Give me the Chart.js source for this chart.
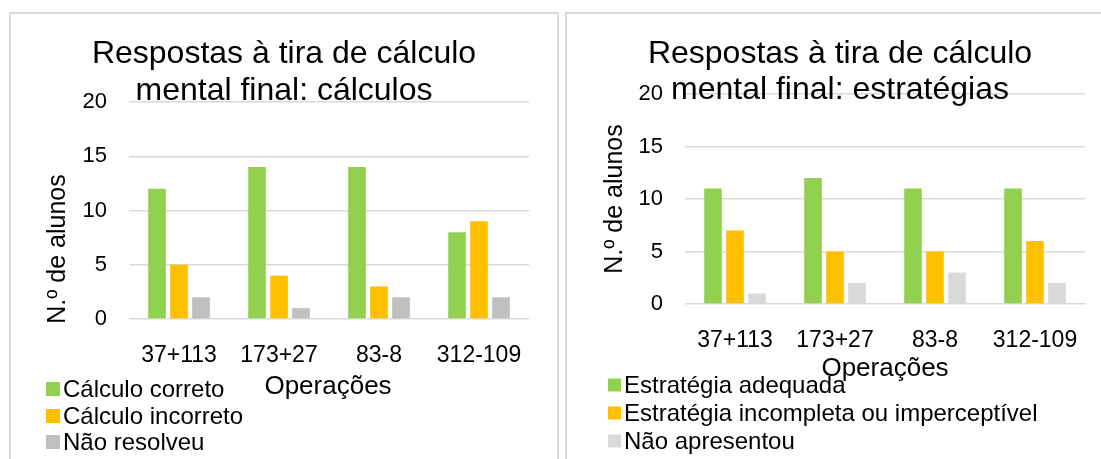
<!DOCTYPE html>
<html>
<head>
<meta charset="utf-8">
<script src="https://cdn.jsdelivr.net/npm/chart.js@4"></script>
<style>
  body { margin: 0; background: #fff; width: 1101px; height: 459px; overflow: hidden; position: relative; }
  .painel { position: absolute; border: 2px solid #d9d9d9; box-sizing: border-box; }
  canvas { position: absolute; top: 0; }
</style>
</head>
<body>
<div class="painel" style="left:9px; top:12px; width:550px; height:480px;"></div>
<div class="painel" style="left:565px; top:12px; width:560px; height:480px;"></div>
<canvas id="grafCalculos" width="558" height="459" style="left:0"></canvas>
<canvas id="grafEstrategias" width="543" height="459" style="left:558px"></canvas>
<script>
// dados
const categorias = ['37+113', '173+27', '83-8', '312-109'];

const calculoCorreto = [12, 14, 14, 8];
const calculoIncorreto = [5, 4, 3, 9];
const naoResolveu = [2, 1, 2, 2];

const estrategiaAdequada = [11, 12, 11, 11];
const estrategiaIncompleta = [7, 5, 5, 6];
const naoApresentou = [1, 2, 3, 2];

const yMin = 0, yMax = 20, yPasso = 5;

const FONTE = '"Liberation Sans", Arial, sans-serif';
const verde = '#92d050', laranja = '#ffc000';

// titulos, eixos e legenda desenhados por cima
const textos = {
    id: 'textos',
    afterDraw(chart, args, o) {
        const ctx = chart.ctx;
        ctx.save();
        ctx.fillStyle = '#000';
        ctx.textAlign = 'center';
        ctx.textBaseline = 'alphabetic';
        ctx.font = '32px ' + FONTE;
        o.titulo.forEach((t, i) => ctx.fillText(t, o.tituloX, o.tituloY[i]));

        ctx.textBaseline = 'middle';
        ctx.font = '26px ' + FONTE;
        ctx.fillText('Operações', o.eixoX[0], o.eixoX[1]);

        ctx.save();
        ctx.translate(o.eixoY[0], o.eixoY[1]);
        ctx.rotate(-Math.PI / 2);
        ctx.font = '25px ' + FONTE;
        ctx.fillText('N.º de alunos', 0, 0);
        ctx.restore();

        ctx.textAlign = 'left';
        ctx.font = '24px ' + FONTE;
        chart.data.datasets.forEach((ds, i) => {
            const y = o.legY[i];
            ctx.fillStyle = ds.backgroundColor;
            ctx.fillRect(o.legX, y - o.quad / 2, o.quad, o.quad);
            ctx.fillStyle = '#000';
            ctx.fillText(ds.label, o.legX + o.quad + 3, y + 1);
        });
        ctx.restore();
    }
};

function criarGrafico(id, series, rotulos, cores, larguraY, pad, textosOpc) {
    const datasets = series.map((s, i) => ({
        label: rotulos[i],
        data: s,
        backgroundColor: cores[i],
        categoryPercentage: 0.66,
        barPercentage: 0.8
    }));
    return new Chart(document.getElementById(id), {
        type: 'bar',
        data: { labels: categorias, datasets: datasets },
        options: {
            responsive: false,
            animation: false,
            devicePixelRatio: 1,
            layout: { padding: pad },
            plugins: {
                legend: { display: false },
                tooltip: { enabled: false },
                textos: textosOpc
            },
            scales: {
                x: {
                    grid: { display: false },
                    border: { display: false },
                    ticks: { color: '#000', font: { family: FONTE, size: 23 }, padding: 15, maxRotation: 0 },
                    afterFit: s => { s.height = 60; }
                },
                y: {
                    min: yMin, max: yMax,
                    grid: { color: '#d9d9d9', lineWidth: 1.5, drawTicks: false },
                    border: { display: false },
                    ticks: { stepSize: yPasso, color: '#000', font: { family: FONTE, size: 22 }, padding: 22 },
                    afterFit: s => { s.width = larguraY; }
                }
            }
        },
        plugins: [textos]
    });
}

criarGrafico('grafCalculos',
    [calculoCorreto, calculoIncorreto, naoResolveu],
    ['Cálculo correto', 'Cálculo incorreto', 'Não resolveu'],
    [verde, laranja, '#bfbfbf'],
    129,
    { left: 0, top: 102, right: 29, bottom: 80 },
    {
        titulo: ['Respostas à tira de cálculo', 'mental final: cálculos'],
        tituloX: 284, tituloY: [63, 100],
        eixoX: [328, 387],
        eixoY: [58, 249],
        legX: 46, legY: [389, 416, 442], quad: 14
    });

criarGrafico('grafEstrategias',
    [estrategiaAdequada, estrategiaIncompleta, naoApresentou],
    ['Estratégia adequada', 'Estratégia incompleta ou imperceptível', 'Não apresentou'],
    [verde, laranja, '#d9d9d9'],
    127,
    { left: 0, top: 94, right: 16, bottom: 95 },
    {
        titulo: ['Respostas à tira de cálculo', 'mental final: estratégias'],
        tituloX: 282, tituloY: [63, 99],
        eixoX: [327, 369],
        eixoY: [57, 199],
        legX: 50, legY: [385, 413, 441], quad: 13
    });
</script>
</body>
</html>
